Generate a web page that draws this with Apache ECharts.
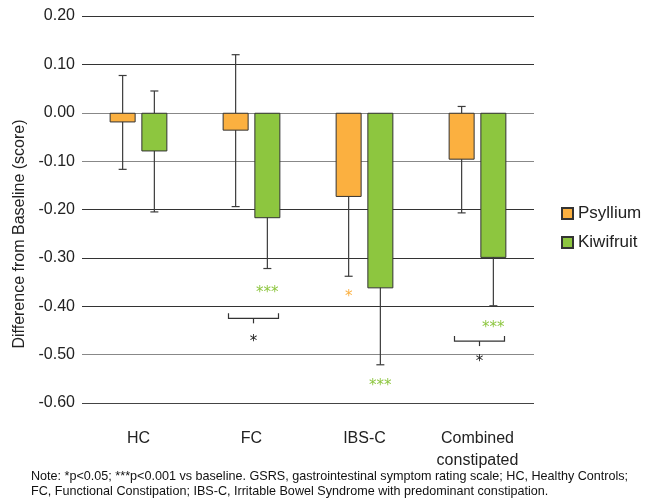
<!DOCTYPE html>
<html><head><meta charset="utf-8">
<script src="https://cdn.jsdelivr.net/npm/echarts@6/dist/echarts.min.js"></script>
<style>html,body{margin:0;padding:0;background:#fff}#c{width:648px;height:499px}</style>
</head><body><div id="c"></div>
<script>
const categories = ['HC', 'FC', 'IBS-C', 'Combined\nconstipated'];
const psyllium = [-0.020, -0.037, -0.174, -0.097];
const kiwifruit = [-0.080, -0.218, -0.363, -0.300];
const psylliumErr = [0.097, 0.157, 0.164, 0.110];
const kiwifruitErr = [0.125, 0.104, 0.158, 0.099];
const yTicks = [-0.6, -0.5, -0.4, -0.3, -0.2, -0.1, 0, 0.1, 0.2];
// significance annotations: category index, group (0 psyllium, 1 kiwifruit, 2 between), value, text
const starCat = [1, 1, 2, 2, 3, 3];
const starGroup = [1, 2, 0, 1, 1, 2];
const starValue = [-0.373, -0.474, -0.381, -0.565, -0.445, -0.515];
const starText = ['***', '*', '*', '***', '***', '*'];
// brackets between groups: category index, value
const bracketCat = [1, 3];
const bracketValue = [-0.425, -0.472];

const ORANGE = '#FBB040', GREEN = '#8DC63F';
const BW = 26, GAP = 0.22;
const OFF = BW * (1 + GAP) / 2;

const chart = echarts.init(document.getElementById('c'), null, {renderer: 'canvas'});

function errItem(offSign) {
  return function (params, api) {
    const ci = api.value(0), v = api.value(1), e = api.value(2);
    const c = api.coord([ci, v]);
    const t = api.coord([ci, v + e]);
    const b = api.coord([ci, v - e]);
    const x = c[0] + offSign * OFF;
    const st = {stroke: '#3c3c3c', lineWidth: 1.2};
    return {type: 'group', children: [
      {type: 'line', shape: {x1: x, y1: t[1], x2: x, y2: b[1]}, style: st},
      {type: 'line', shape: {x1: x - 4, y1: t[1], x2: x + 4, y2: t[1]}, style: st},
      {type: 'line', shape: {x1: x - 4, y1: b[1], x2: x + 4, y2: b[1]}, style: st}
    ]};
  };
}

const starData = starCat.map((c, i) => [c, starValue[i], starGroup[i], starText[i]]);
const bracketData = bracketCat.map((c, i) => [c, bracketValue[i]]);

chart.setOption({
  animation: false,
  grid: {left: 82, right: 114, top: 16, height: 387},
  legend: {
    data: ['Psyllium', 'Kiwifruit'], orient: 'vertical', left: 556, top: 200,
    itemWidth: 11, itemHeight: 11, itemGap: 12, icon: 'rect',
    textStyle: {fontSize: 17, color: '#222', fontFamily: 'Liberation Sans'}
  },
  xAxis: {
    type: 'category', data: categories,
    axisLine: {show: false}, axisTick: {show: false},
    axisLabel: {fontSize: 16, color: '#222', margin: 25, lineHeight: 22, fontFamily: 'Liberation Sans'}
  },
  yAxis: {
    type: 'value', min: -0.6, max: 0.2, interval: 0.1,
    axisLine: {show: false}, axisTick: {show: false},
    axisLabel: {fontSize: 16, color: '#222', margin: 7, fontFamily: 'Liberation Sans',
      formatter: v => (Math.abs(v) < 1e-9 ? 0 : v).toFixed(2)},
    splitLine: {lineStyle: {color: ['#444', '#888', '#333', '#333', '#333', '#888', '#888', '#333', '#333'], width: 1.2}}
  },
  graphic: [
    {type: 'text', x: 20, y: 234, rotation: Math.PI / 2,
      style: {text: 'Difference from Baseline (score)', fontSize: 16, fill: '#222', fontFamily: 'Liberation Sans',
        textAlign: 'center', textVerticalAlign: 'middle'}},
    {type: 'text', left: 31, top: 469,
      style: {text: 'Note: *p<0.05; ***p<0.001 vs baseline. GSRS, gastrointestinal symptom rating scale; HC, Healthy Controls;\nFC, Functional Constipation; IBS-C, Irritable Bowel Syndrome with predominant constipation.',
        fontSize: 12.6, lineHeight: 15, fill: '#111', fontFamily: 'Liberation Sans'}}
  ],
  series: [
    {name: 'Psyllium', type: 'bar', data: psyllium, barWidth: BW, barGap: (GAP * 100) + '%', z: 3,
      itemStyle: {color: ORANGE, borderColor: '#333', borderWidth: 1}},
    {name: 'Kiwifruit', type: 'bar', data: kiwifruit, barWidth: BW, z: 3,
      itemStyle: {color: GREEN, borderColor: '#333', borderWidth: 1}},
    {type: 'custom', z: 1, renderItem: errItem(-1),
      data: psyllium.map((v, i) => [i, v, psylliumErr[i]])},
    {type: 'custom', z: 1, renderItem: errItem(1),
      data: kiwifruit.map((v, i) => [i, v, kiwifruitErr[i]])},
    {type: 'custom', z: 4,
      renderItem: function (params, api) {
        const ci = api.value(0), v = api.value(1), g = api.value(2);
        const txt = starText[params.dataIndex];
        const c = api.coord([ci, v]);
        const x = c[0] + (g === 0 ? -OFF : g === 1 ? OFF : 2);
        const col = g === 0 ? ORANGE : g === 1 ? GREEN : '#222';
        return {type: 'text', x: x, y: c[1],
          style: {text: txt, fill: col, fontSize: 15, fontFamily: 'DejaVu Sans',
            textAlign: 'center', textVerticalAlign: 'middle'}};
      },
      data: starData},
    {type: 'custom', z: 4,
      renderItem: function (params, api) {
        const c = api.coord([api.value(0), api.value(1)]);
        const x0 = c[0] - 23, x1 = c[0] + 27, xm = c[0] + 2, y = c[1];
        const st = {stroke: '#333', lineWidth: 1.2, fill: null};
        return {type: 'group', children: [
          {type: 'polyline', shape: {points: [[x0, y - 5], [x0, y], [x1, y], [x1, y - 5]]}, style: st},
          {type: 'line', shape: {x1: xm, y1: y, x2: xm, y2: y + 5}, style: st}
        ]};
      },
      data: bracketData}
  ]
});
</script></body></html>
